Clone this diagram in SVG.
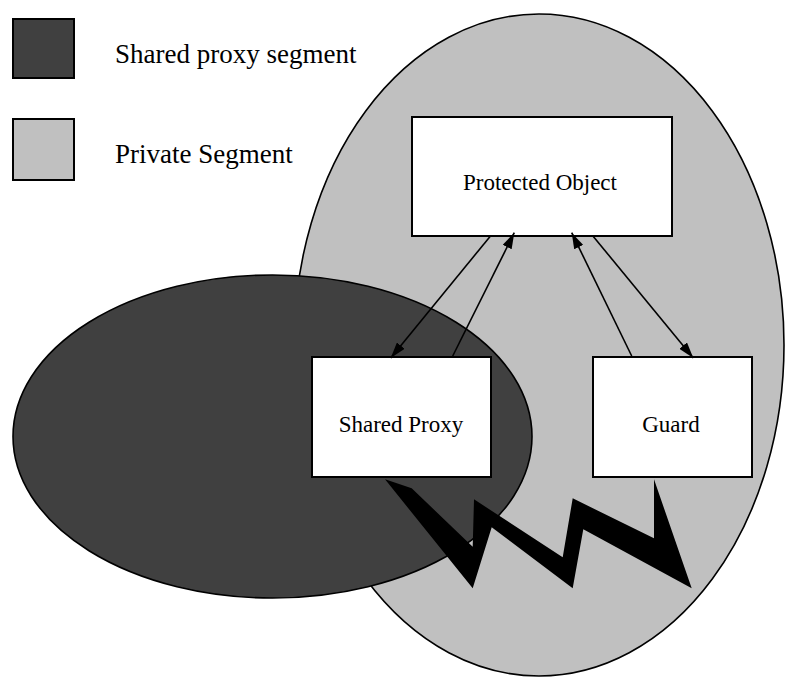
<svg xmlns="http://www.w3.org/2000/svg" width="785" height="677" viewBox="0 0 785 677">
  <style>
    .seg { stroke: #000; stroke-width: 1.6; }
    .shared { fill: #404040; }
    .private { fill: #c0c0c0; }
    .box { fill: #fff; stroke: #000; stroke-width: 2; }
    .legend-label { font-family: 'Liberation Serif', 'DejaVu Serif', serif; font-size: 27px; fill: #000; }
    .label { font-family: 'Liberation Serif', 'DejaVu Serif', serif; font-size: 23px; fill: #000; text-anchor: middle; }
    .link { stroke: #000; stroke-width: 1.6; fill: none; marker-end: url(#head); }
  </style>
  <defs>
    <marker id="head" viewBox="0 0 16 10" refX="16" refY="5" markerWidth="16" markerHeight="10" markerUnits="userSpaceOnUse" orient="auto">
      <path d="M0,0 L16,5 L0,10 Z" fill="#000"/>
    </marker>
  </defs>

  <rect width="785" height="677" fill="#fff"/>

  <!-- legend -->
  <g id="legend">
    <rect x="13" y="19" width="61" height="59" class="shared" stroke="#000" stroke-width="2"/>
    <text x="115" y="63" class="legend-label">Shared proxy segment</text>
    <rect x="13" y="119" width="61" height="61" class="private" stroke="#000" stroke-width="2"/>
    <text x="115" y="163" class="legend-label">Private Segment</text>
  </g>

  <!-- segments -->
  <g id="private-segment">
    <ellipse cx="539" cy="345" rx="245" ry="331" class="seg private"/>
  </g>
  <g id="shared-segment">
    <ellipse cx="272.5" cy="436.5" rx="259.5" ry="161.5" class="seg shared"/>
  </g>

  <!-- objects -->
  <g id="protected-object">
    <rect x="412" y="117" width="260" height="119" class="box"/>
    <text x="540" y="190" class="label">Protected Object</text>
  </g>
  <g id="shared-proxy">
    <rect x="312" y="357" width="179" height="120" class="box"/>
    <text x="401" y="432" class="label">Shared Proxy</text>
  </g>
  <g id="guard">
    <rect x="593" y="357" width="159" height="120" class="box"/>
    <text x="671" y="432" class="label">Guard</text>
  </g>

  <!-- calls between the objects -->
  <g id="connectors">
    <line x1="490.7" y1="235.7" x2="390.7" y2="358" class="link"/>
    <line x1="452.7" y1="356" x2="514.3" y2="232.7" class="link"/>
    <line x1="631.7" y1="356" x2="571.7" y2="232.7" class="link"/>
    <line x1="592.7" y1="235.7" x2="693.3" y2="358" class="link"/>
    <!-- lightning bolt from the proxy to the guard -->
    <polygon id="bolt" fill="#000" points="385,479.3 411.7,488.3 472.7,546.7 474,499.3 562.7,557.3 572.7,498.3 654,538.3 654,479.3 691.7,588.3 583.3,529.3 572.7,588.3 491.7,527.3 472.7,588.3"/>
  </g>
</svg>
